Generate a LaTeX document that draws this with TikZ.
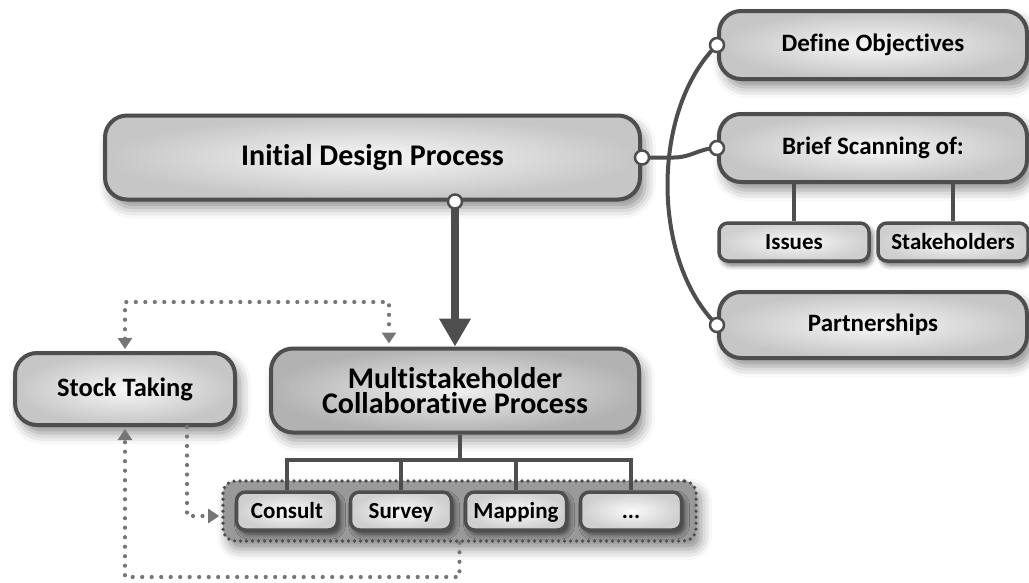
\documentclass[tikz,border=0pt]{standalone}
\usepackage{fontspec}
\setmainfont{Carlito}[Ligatures=NoCommon]
\usetikzlibrary{arrows.meta,shadows.blur}

\definecolor{linegray}{HTML}{4E4E4E}
\definecolor{dotgray}{HTML}{767676}

\tikzset{
  box/.style={draw=linegray, line width=4pt, rounded corners=22pt,
    inner color=gray!6, outer color=gray!45, align=center,
    font=\bfseries\fontsize{25}{22}\selectfont,
    blur shadow={shadow xshift=5pt, shadow yshift=-8pt,
      shadow blur radius=11pt, shadow opacity=45}},
  bigbox/.style={box, font=\bfseries\fontsize{30}{28}\selectfont},
  darkbox/.style={bigbox, inner color=gray!12, outer color=gray!60},
  subbox/.style={box, line width=3.5pt, rounded corners=9pt,
    inner color=gray!4, outer color=gray!38,
    font=\bfseries\fontsize{23}{24}\selectfont,
    text height=16pt, text depth=1.5pt,
    blur shadow={shadow xshift=3pt, shadow yshift=-4pt,
      shadow blur radius=5pt, shadow opacity=35}},
  groupbox/.style={draw=linegray, line width=3.6pt, rounded corners=12pt,
    fill=gray!80, dash pattern=on 0pt off 6pt, line cap=round,
    blur shadow={shadow xshift=5pt, shadow yshift=-8pt,
      shadow blur radius=11pt, shadow opacity=45}},
  knob/.style={circle, draw=linegray, fill=white, line width=2.5pt,
    minimum size=14pt, inner sep=0pt},
  link/.style={draw=linegray, line width=4pt},
  bigarrow/.style={draw=linegray, line width=8pt,
    -{Triangle[width=30pt,length=28pt]}},
  dotline/.style={draw=dotgray, line width=4.2pt, line cap=round,
    dash pattern=on 0pt off 9.5pt},
  dottip/.tip={Triangle[width=14pt,length=11pt]}
}

\begin{document}
\begin{tikzpicture}[x=1pt,y=-1pt]
  \useasboundingbox (0,0) rectangle (1029,582);

  % main steps
  \node[bigbox, minimum width=535pt, minimum height=84pt] (init) at (372.5,157.5) {Initial Design Process};
  \node[darkbox, minimum width=368pt, minimum height=84pt] (multi) at (455,390.5) {Multistakeholder\\[-3pt]Collaborative Process};
  \node[box, font=\bfseries\fontsize{26.5}{26}\selectfont, minimum width=220pt, minimum height=72pt] (stock) at (125,389) {Stock Taking};

  % right column
  \node[box, minimum width=308pt, minimum height=68pt] (defobj) at (873,45) {Define Objectives};
  \node[box, minimum width=308pt, minimum height=68pt] (brief) at (873,148) {Brief Scanning of:};
  \node[subbox, minimum width=150pt, minimum height=38pt] (issues) at (794,242) {Issues};
  \node[subbox, minimum width=150pt, minimum height=38pt] (stake) at (953,242) {Stakeholders};
  \node[box, minimum width=308pt, minimum height=66pt] (partner) at (873,325) {Partnerships};

  % methods
  \node[groupbox, minimum width=473pt, minimum height=60pt] (group) at (459.5,511) {};
  \node[subbox, minimum width=101pt, minimum height=38pt] (consult) at (287,511) {Consult};
  \node[subbox, minimum width=101pt, minimum height=38pt] (survey) at (401,511) {Survey};
  \node[subbox, minimum width=101pt, minimum height=38pt] (mapping) at (516,511) {Mapping};
  \node[subbox, minimum width=101pt, minimum height=38pt] (more) at (631,511) {...};

  \coordinate (fork) at (460,460);
  \coordinate (loopA) at (389,302);
  \coordinate (loopB) at (187,516);
  \coordinate (loopC) at (0,577);

  % links
  \draw[bigarrow] (init.south -| multi.north) -- (multi.north);
  \draw[link] (defobj.west) .. controls (651,110) and (651,260) .. (partner.west);
  \draw[link] (init.east) -- ++(32,0) to[out=0,in=180] (brief.west);
  \draw[link] (issues.north) -- (issues.north |- brief.south);
  \draw[link] (stake.north) -- (stake.north |- brief.south);
  \draw[link] (fork |- multi.south) -- (fork);
  \draw[link] (consult.north) |- (fork) -| (more.north);
  \draw[link] (survey.north) -- (survey.north |- fork);
  \draw[link] (mapping.north) -- (mapping.north |- fork);

  % feedback loops
  \draw[dotline, dottip-dottip, shorten <=2pt, shorten >=3pt] (stock.north) |- (loopA) -- (loopA |- multi.north);
  \draw[dotline, -dottip, shorten >=2pt] (loopB |- stock.south) -- (loopB) -- (loopB -| group.west);
  \draw[dotline, -dottip, shorten >=2pt] (group.south) -- (group.south |- loopC) -| (stock.south);

  \foreach \n/\a in {kInit/init.east, kDrop/init.south -| multi.north, kObj/defobj.west, kBrief/brief.west, kPart/partner.west}
    \node[knob] (\n) at (\a) {};
\end{tikzpicture}
\end{document}
